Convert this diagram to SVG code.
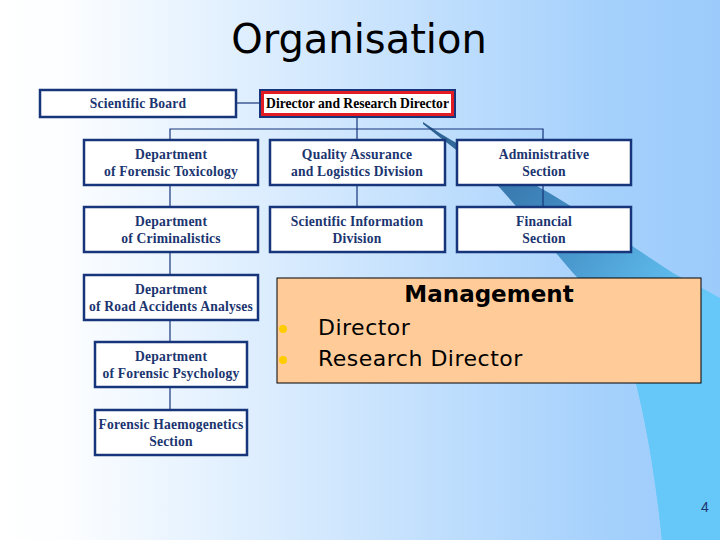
<svg xmlns="http://www.w3.org/2000/svg" width="720" height="540" viewBox="0 0 720 540">
<defs>
<linearGradient id="bg" x1="0" y1="0" x2="1" y2="0">
<stop offset="0" stop-color="#ffffff"/>
<stop offset="0.1" stop-color="#fbfdff"/>
<stop offset="0.85" stop-color="#a4d0fc"/>
<stop offset="1" stop-color="#9ccbfb"/>
</linearGradient>
<linearGradient id="sw" gradientUnits="userSpaceOnUse" x1="423" y1="123" x2="680" y2="330">
<stop offset="0" stop-color="#2c5f8e"/>
<stop offset="0.45" stop-color="#3f86bd"/>
<stop offset="1" stop-color="#66c8f8"/>
</linearGradient>
<style>
.box{fill:#ffffff;stroke:#16357a;stroke-width:2.5}
.t{font-family:"Liberation Serif","Times New Roman",serif;font-weight:bold;font-size:13.6px;letter-spacing:0.2px;fill:#1b3570;text-anchor:middle}
.c{stroke:#16357a;stroke-width:1.2;fill:none}
.bul{fill:#ffcc00}
.cm{font-family:"DejaVu Sans",sans-serif;fill:#000}
</style>
</defs>
<rect x="0" y="0" width="720" height="540" fill="url(#bg)"/>
<path d="M423,122 C435,130 447,138 460,145 C485,160 510,173 537,186 C580,210 630,245 673,273 C695,285 710,292 720,298 L720,540 L662,540 C655,470 645,420 636,383 C625,340 600,300 573,273 C545,240 520,210 500,188 C485,173 470,160 455,149 C445,141 434,133 423,124 Z" fill="url(#sw)"/>
<path d="M662,540 C655,470 645,420 636,383 C628,352 615,320 600,300 L720,300 L720,540 Z" fill="#66c8f8"/>
<text class="cm" x="359" y="53" font-size="40" text-anchor="middle">Organisation</text>

<g id="connectors">
<line class="c" x1="236" y1="103" x2="259" y2="103"/>
<line class="c" x1="357" y1="117" x2="357" y2="140"/>
<polyline class="c" points="170,140 170,129 543,129 543,140"/>
<line class="c" x1="170" y1="185" x2="170" y2="207"/>
<line class="c" x1="357" y1="185" x2="357" y2="207"/>
<line class="c" x1="543" y1="185" x2="543" y2="207"/>
<line class="c" x1="170" y1="252" x2="170" y2="275"/>
<line class="c" x1="170" y1="320" x2="170" y2="342"/>
<line class="c" x1="170" y1="387" x2="170" y2="410"/>
</g>

<g id="scientific-board">
<rect class="box" x="40" y="90" width="196" height="27"/>
<text class="t" x="138" y="108">Scientific Board</text>
</g>
<g id="director">
<rect x="260" y="90" width="195" height="27" fill="#e31b23" stroke="#16357a" stroke-width="2"/>
<rect x="264" y="94" width="187" height="19" fill="#ffffff"/>
<text class="t" x="357.5" y="108" style="fill:#000;letter-spacing:0">Director and Research Director</text>
</g>
<g id="toxicology">
<rect class="box" x="84" y="140" width="174" height="45"/>
<text class="t" x="171" y="159">Department</text>
<text class="t" x="171" y="176">of Forensic Toxicology</text>
</g>
<g id="quality">
<rect class="box" x="270" y="140" width="175" height="45"/>
<text class="t" x="357" y="159">Quality Assurance</text>
<text class="t" x="357" y="176">and Logistics Division</text>
</g>
<g id="administrative">
<rect class="box" x="457" y="140" width="174" height="45"/>
<text class="t" x="544" y="159">Administrative</text>
<text class="t" x="544" y="176">Section</text>
</g>
<g id="criminalistics">
<rect class="box" x="84" y="207" width="174" height="45"/>
<text class="t" x="171" y="226">Department</text>
<text class="t" x="171" y="243">of Criminalistics</text>
</g>
<g id="sci-info">
<rect class="box" x="270" y="207" width="175" height="45"/>
<text class="t" x="357" y="226">Scientific Information</text>
<text class="t" x="357" y="243">Division</text>
</g>
<g id="financial">
<rect class="box" x="457" y="207" width="174" height="45"/>
<text class="t" x="544" y="226">Financial</text>
<text class="t" x="544" y="243">Section</text>
</g>
<g id="road">
<rect class="box" x="84" y="275" width="174" height="45"/>
<text class="t" x="171" y="294">Department</text>
<text class="t" x="171" y="311">of Road Accidents Analyses</text>
</g>
<g id="psychology">
<rect class="box" x="95" y="342" width="152" height="45"/>
<text class="t" x="171" y="361">Department</text>
<text class="t" x="171" y="378">of Forensic Psychology</text>
</g>
<g id="haemogenetics">
<rect class="box" x="95" y="410" width="152" height="45"/>
<text class="t" x="171" y="429">Forensic Haemogenetics</text>
<text class="t" x="171" y="446">Section</text>
</g>

<g id="management">
<rect x="277" y="278" width="424" height="105" fill="#ffcc99" stroke="#000" stroke-width="1"/>
<text class="cm" x="489" y="302" font-size="23" font-weight="bold" text-anchor="middle">Management</text>
<circle class="bul" cx="283" cy="329" r="4"/>
<circle class="bul" cx="283" cy="360" r="4"/>
<text class="cm" x="318" y="335" font-size="22" letter-spacing="0.5">Director</text>
<text class="cm" x="318" y="366" font-size="22" letter-spacing="0.5">Research Director</text>
</g>
<text x="705" y="512" font-family="Liberation Sans, sans-serif" font-size="14" fill="#1b3570" text-anchor="middle">4</text>
</svg>
